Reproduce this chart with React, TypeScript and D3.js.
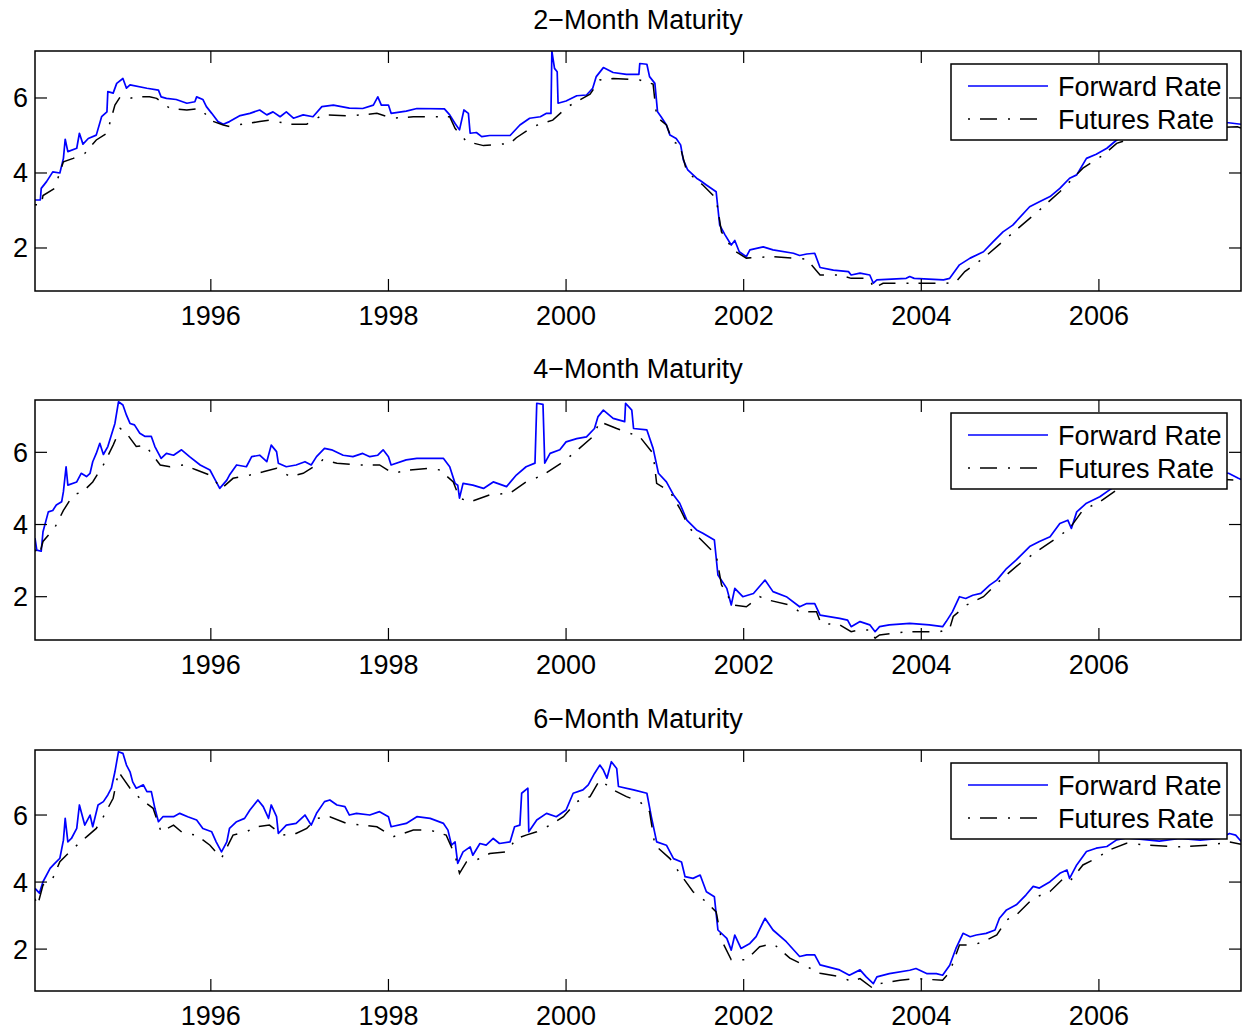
import React from 'react';
import * as d3 from 'd3';

type Pt = [number, number];

// ---- 2-month maturity ----
const forward2m: Pt[] = [
  [1994.02, 3.28], [1994.08, 3.28], [1994.09, 3.59], [1994.15, 3.77], [1994.22, 4.03], [1994.30, 4.0],
  [1994.34, 4.39], [1994.36, 4.9], [1994.39, 4.57], [1994.49, 4.66], [1994.52, 5.06], [1994.56, 4.77],
  [1994.62, 4.92], [1994.71, 5.01], [1994.77, 5.5], [1994.83, 5.63], [1994.84, 6.17], [1994.90, 6.13],
  [1994.94, 6.39], [1995.01, 6.52], [1995.05, 6.26], [1995.09, 6.35], [1995.28, 6.26], [1995.41, 6.21],
  [1995.44, 6.03], [1995.50, 5.99], [1995.61, 5.96], [1995.73, 5.86], [1995.82, 5.9], [1995.84, 6.03],
  [1995.91, 5.96], [1995.95, 5.77], [1996.01, 5.59], [1996.08, 5.37], [1996.14, 5.3], [1996.21, 5.37],
  [1996.33, 5.53], [1996.44, 5.59], [1996.55, 5.68], [1996.63, 5.55], [1996.70, 5.63], [1996.78, 5.5],
  [1996.85, 5.63], [1996.93, 5.46], [1997.04, 5.55], [1997.15, 5.5], [1997.25, 5.77], [1997.38, 5.81],
  [1997.56, 5.73], [1997.71, 5.72], [1997.83, 5.81], [1997.88, 6.03], [1997.92, 5.81], [1998.00, 5.81],
  [1998.03, 5.59], [1998.20, 5.65], [1998.32, 5.72], [1998.63, 5.71], [1998.69, 5.55], [1998.75, 5.32],
  [1998.80, 5.15], [1998.85, 5.68], [1998.90, 5.59], [1998.92, 5.06], [1998.99, 5.08], [1999.05, 4.97],
  [1999.14, 5.0], [1999.37, 5.0], [1999.48, 5.28], [1999.59, 5.46], [1999.71, 5.5], [1999.78, 5.59],
  [1999.83, 5.59], [1999.84, 7.25], [1999.87, 6.79], [1999.90, 6.7], [1999.91, 5.86], [2000.00, 5.92],
  [2000.12, 6.06], [2000.23, 6.08], [2000.30, 6.26], [2000.34, 6.57], [2000.42, 6.81], [2000.53, 6.68],
  [2000.68, 6.63], [2000.82, 6.63], [2000.83, 6.92], [2000.91, 6.9], [2000.94, 6.57], [2001.00, 6.39],
  [2001.03, 5.63], [2001.07, 5.5], [2001.13, 5.28], [2001.17, 5.01], [2001.24, 4.92], [2001.29, 4.75],
  [2001.32, 4.35], [2001.37, 4.08], [2001.47, 3.86], [2001.51, 3.8], [2001.58, 3.68], [2001.69, 3.5],
  [2001.73, 2.61], [2001.79, 2.35], [2001.86, 2.08], [2001.90, 2.2], [2001.95, 1.9], [2002.03, 1.77],
  [2002.07, 1.95], [2002.22, 2.03], [2002.33, 1.95], [2002.56, 1.86], [2002.63, 1.8], [2002.71, 1.84],
  [2002.80, 1.86], [2002.86, 1.48], [2003.01, 1.41], [2003.18, 1.37], [2003.21, 1.28], [2003.31, 1.33],
  [2003.42, 1.28], [2003.46, 1.06], [2003.50, 1.15], [2003.83, 1.19], [2003.87, 1.24], [2003.92, 1.19],
  [2004.25, 1.15], [2004.32, 1.19], [2004.43, 1.55], [2004.55, 1.73], [2004.70, 1.9], [2004.81, 2.17],
  [2004.92, 2.43], [2005.03, 2.61], [2005.22, 3.1], [2005.33, 3.23], [2005.45, 3.37], [2005.56, 3.59],
  [2005.67, 3.86], [2005.75, 3.95], [2005.86, 4.39], [2005.97, 4.5], [2006.09, 4.66], [2006.20, 4.88],
  [2006.46, 5.15], [2006.80, 5.3], [2007.14, 5.34], [2007.46, 5.34], [2007.60, 5.3],
];

const futures2m: Pt[] = [
  [1994.02, 3.15], [1994.09, 3.15], [1994.11, 3.4], [1994.24, 3.59], [1994.34, 4.3], [1994.45, 4.39],
  [1994.58, 4.52], [1994.71, 4.88], [1994.83, 5.06], [1994.92, 5.81], [1994.98, 6.03], [1995.09, 5.99],
  [1995.16, 6.03], [1995.31, 6.03], [1995.39, 5.99], [1995.54, 5.72], [1995.73, 5.68], [1995.88, 5.72],
  [1996.01, 5.39], [1996.14, 5.28], [1996.21, 5.24], [1996.40, 5.32], [1996.55, 5.37], [1996.66, 5.41],
  [1996.89, 5.3], [1997.08, 5.3], [1997.26, 5.55], [1997.56, 5.52], [1997.87, 5.59], [1998.05, 5.46],
  [1998.28, 5.5], [1998.69, 5.5], [1998.75, 5.19], [1998.88, 4.84], [1999.07, 4.73], [1999.37, 4.79],
  [1999.44, 4.94], [1999.63, 5.24], [1999.85, 5.41], [2000.02, 5.77], [2000.27, 6.1], [2000.38, 6.48],
  [2000.53, 6.52], [2000.83, 6.48], [2000.98, 6.37], [2001.02, 5.5], [2001.13, 5.28], [2001.20, 4.84],
  [2001.28, 4.75], [2001.36, 4.03], [2001.54, 3.68], [2001.69, 3.32], [2001.75, 2.43], [2001.88, 1.95],
  [2002.03, 1.73], [2002.33, 1.77], [2002.56, 1.73], [2002.71, 1.7], [2002.86, 1.28], [2003.08, 1.28],
  [2003.21, 1.19], [2003.42, 1.19], [2003.46, 0.93], [2003.57, 1.06], [2003.94, 1.06], [2004.28, 1.06],
  [2004.39, 1.1], [2004.49, 1.37], [2004.70, 1.73], [2004.96, 2.26], [2005.33, 3.01], [2005.56, 3.5],
  [2005.82, 4.13], [2006.05, 4.48], [2006.20, 4.79], [2006.46, 5.0], [2006.80, 5.15], [2007.14, 5.2],
  [2007.56, 5.23], [2007.60, 5.2],
];

// ---- 4-month maturity ----
const forward4m: Pt[] = [
  [1994.02, 3.62], [1994.04, 3.29], [1994.09, 3.26], [1994.11, 3.8], [1994.17, 4.35], [1994.22, 4.39],
  [1994.26, 4.54], [1994.32, 4.63], [1994.34, 4.91], [1994.37, 5.6], [1994.39, 5.09], [1994.49, 5.18],
  [1994.54, 5.42], [1994.60, 5.33], [1994.64, 5.42], [1994.67, 5.74], [1994.71, 5.97], [1994.75, 6.25],
  [1994.79, 5.94], [1994.84, 6.16], [1994.88, 6.48], [1994.92, 6.8], [1994.96, 7.4], [1995.01, 7.31],
  [1995.05, 7.03], [1995.09, 6.8], [1995.14, 6.76], [1995.20, 6.53], [1995.26, 6.44], [1995.33, 6.44],
  [1995.37, 6.16], [1995.44, 5.83], [1995.50, 5.97], [1995.58, 5.92], [1995.67, 6.07], [1995.76, 5.88],
  [1995.88, 5.65], [1995.99, 5.51], [1996.04, 5.28], [1996.10, 5.0], [1996.18, 5.23], [1996.21, 5.37],
  [1996.29, 5.65], [1996.40, 5.6], [1996.46, 5.88], [1996.55, 5.92], [1996.63, 5.74], [1996.68, 6.2],
  [1996.74, 6.02], [1996.76, 5.7], [1996.85, 5.6], [1996.96, 5.65], [1997.06, 5.74], [1997.13, 5.65],
  [1997.19, 5.88], [1997.28, 6.11], [1997.36, 6.07], [1997.49, 5.92], [1997.60, 5.88], [1997.71, 5.97],
  [1997.79, 5.88], [1997.88, 5.92], [1997.94, 6.07], [1998.00, 5.88], [1998.03, 5.65], [1998.20, 5.79],
  [1998.32, 5.83], [1998.62, 5.83], [1998.69, 5.6], [1998.75, 5.14], [1998.78, 5.09], [1998.80, 4.73],
  [1998.84, 5.14], [1998.95, 5.09], [1999.07, 5.0], [1999.18, 5.18], [1999.33, 5.05], [1999.44, 5.37],
  [1999.55, 5.6], [1999.65, 5.7], [1999.67, 7.36], [1999.74, 7.33], [1999.76, 5.7], [1999.82, 5.97],
  [1999.93, 6.07], [2000.00, 6.29], [2000.12, 6.38], [2000.23, 6.43], [2000.32, 6.66], [2000.36, 6.99],
  [2000.42, 7.17], [2000.53, 6.94], [2000.66, 6.85], [2000.67, 7.36], [2000.74, 7.17], [2000.76, 6.66],
  [2000.91, 6.62], [2000.98, 6.11], [2001.04, 5.42], [2001.13, 5.18], [2001.21, 4.82], [2001.28, 4.59],
  [2001.36, 4.12], [2001.47, 3.85], [2001.54, 3.76], [2001.67, 3.57], [2001.71, 2.6], [2001.81, 2.23],
  [2001.86, 1.77], [2001.90, 2.23], [2001.99, 2.0], [2002.11, 2.09], [2002.24, 2.46], [2002.33, 2.14],
  [2002.48, 2.0], [2002.63, 1.72], [2002.71, 1.81], [2002.80, 1.81], [2002.86, 1.49], [2003.08, 1.4],
  [2003.17, 1.35], [2003.21, 1.17], [2003.31, 1.31], [2003.42, 1.22], [2003.48, 1.03], [2003.53, 1.17],
  [2003.64, 1.22], [2003.87, 1.26], [2004.09, 1.22], [2004.24, 1.17], [2004.28, 1.31], [2004.35, 1.58],
  [2004.43, 2.0], [2004.50, 1.95], [2004.58, 2.04], [2004.67, 2.09], [2004.77, 2.32], [2004.85, 2.46],
  [2004.96, 2.78], [2005.07, 3.02], [2005.22, 3.39], [2005.33, 3.53], [2005.45, 3.66], [2005.56, 4.03],
  [2005.65, 4.12], [2005.69, 3.89], [2005.75, 4.35], [2005.86, 4.59], [2006.01, 4.77], [2006.12, 4.96],
  [2006.20, 5.09], [2006.57, 5.35], [2007.02, 5.45], [2007.46, 5.42], [2007.57, 5.28], [2007.60, 5.25],
];

const futures4m: Pt[] = [
  [1994.02, 3.3], [1994.07, 3.16], [1994.11, 3.53], [1994.24, 3.9], [1994.34, 4.39], [1994.45, 4.82],
  [1994.56, 4.91], [1994.67, 5.18], [1994.79, 5.65], [1994.90, 6.2], [1994.98, 6.66], [1995.05, 6.53],
  [1995.16, 6.16], [1995.26, 6.2], [1995.43, 5.65], [1995.54, 5.6], [1995.69, 5.65], [1995.84, 5.51],
  [1995.99, 5.37], [1996.12, 5.0], [1996.25, 5.28], [1996.44, 5.37], [1996.59, 5.46], [1996.74, 5.56],
  [1996.89, 5.33], [1997.04, 5.42], [1997.19, 5.65], [1997.26, 5.79], [1997.42, 5.7], [1997.68, 5.65],
  [1997.90, 5.65], [1998.05, 5.42], [1998.24, 5.51], [1998.47, 5.56], [1998.58, 5.51], [1998.73, 5.18],
  [1998.80, 4.73], [1998.92, 4.63], [1999.14, 4.82], [1999.37, 4.87], [1999.55, 5.18], [1999.74, 5.37],
  [1999.97, 5.74], [2000.15, 6.11], [2000.30, 6.43], [2000.38, 6.85], [2000.57, 6.66], [2000.83, 6.43],
  [2000.98, 5.97], [2001.02, 5.14], [2001.17, 4.91], [2001.28, 4.45], [2001.39, 3.9], [2001.54, 3.53],
  [2001.69, 3.16], [2001.75, 2.33], [2001.88, 1.77], [2002.03, 1.72], [2002.18, 2.0], [2002.29, 1.9],
  [2002.52, 1.77], [2002.63, 1.58], [2002.82, 1.58], [2002.87, 1.26], [2003.08, 1.22], [2003.21, 1.03],
  [2003.31, 1.08], [2003.42, 1.08], [2003.48, 0.85], [2003.53, 0.94], [2003.83, 1.03], [2004.21, 1.03],
  [2004.32, 1.12], [2004.36, 1.45], [2004.51, 1.77], [2004.70, 2.0], [2004.89, 2.46], [2005.11, 2.92],
  [2005.30, 3.25], [2005.52, 3.62], [2005.67, 3.89], [2005.82, 4.4], [2006.01, 4.63], [2006.20, 4.96],
  [2006.57, 5.2], [2007.02, 5.3], [2007.56, 5.23], [2007.60, 5.2],
];

// ---- 6-month maturity ----
const forward6m: Pt[] = [
  [1994.02, 3.81], [1994.07, 3.67], [1994.11, 4.01], [1994.19, 4.41], [1994.24, 4.55], [1994.30, 4.71],
  [1994.34, 5.25], [1994.36, 5.9], [1994.39, 5.2], [1994.43, 5.3], [1994.49, 5.6], [1994.52, 6.3],
  [1994.58, 5.7], [1994.64, 6.0], [1994.67, 5.65], [1994.73, 6.3], [1994.79, 6.4], [1994.84, 6.6],
  [1994.88, 6.8], [1994.92, 7.29], [1994.96, 7.89], [1995.01, 7.84], [1995.05, 7.49], [1995.09, 7.29],
  [1995.12, 6.99], [1995.16, 6.8], [1995.24, 6.9], [1995.28, 6.7], [1995.33, 6.7], [1995.37, 6.2],
  [1995.41, 5.8], [1995.46, 5.95], [1995.58, 5.95], [1995.65, 6.05], [1995.74, 5.95], [1995.84, 5.85],
  [1995.91, 5.6], [1996.01, 5.5], [1996.06, 5.2], [1996.12, 4.9], [1996.18, 5.2], [1996.21, 5.6],
  [1996.29, 5.8], [1996.38, 5.9], [1996.44, 6.15], [1996.53, 6.45], [1996.59, 6.25], [1996.65, 5.9],
  [1996.68, 6.3], [1996.74, 5.95], [1996.76, 5.45], [1996.85, 5.7], [1996.96, 5.75], [1997.06, 6.0],
  [1997.13, 5.7], [1997.19, 6.05], [1997.28, 6.4], [1997.34, 6.45], [1997.42, 6.3], [1997.51, 6.25],
  [1997.56, 6.0], [1997.64, 6.05], [1997.79, 6.0], [1997.90, 6.1], [1998.00, 5.95], [1998.03, 5.65],
  [1998.20, 5.75], [1998.32, 5.95], [1998.47, 5.9], [1998.62, 5.75], [1998.67, 5.55], [1998.71, 5.1],
  [1998.75, 5.2], [1998.78, 4.56], [1998.84, 4.9], [1998.92, 5.05], [1998.95, 4.8], [1999.03, 5.15],
  [1999.10, 5.1], [1999.18, 5.3], [1999.25, 5.15], [1999.37, 5.2], [1999.42, 5.65], [1999.48, 5.7],
  [1999.50, 6.65], [1999.57, 6.8], [1999.58, 5.5], [1999.67, 5.85], [1999.78, 6.05], [1999.89, 5.95],
  [2000.00, 6.15], [2000.08, 6.65], [2000.19, 6.75], [2000.25, 6.9], [2000.32, 7.24], [2000.38, 7.49],
  [2000.42, 7.34], [2000.46, 7.1], [2000.51, 7.59], [2000.57, 7.39], [2000.59, 6.85], [2000.76, 6.75],
  [2000.91, 6.65], [2000.96, 5.95], [2001.02, 5.2], [2001.13, 5.1], [2001.21, 4.7], [2001.30, 4.6],
  [2001.34, 4.16], [2001.43, 4.11], [2001.51, 4.21], [2001.58, 3.71], [2001.67, 3.56], [2001.71, 2.57],
  [2001.81, 2.32], [2001.86, 1.97], [2001.90, 2.42], [2001.97, 2.02], [2002.07, 2.17], [2002.14, 2.37],
  [2002.24, 2.92], [2002.33, 2.57], [2002.48, 2.22], [2002.63, 1.78], [2002.71, 1.83], [2002.80, 1.83],
  [2002.86, 1.53], [2003.08, 1.38], [2003.19, 1.22], [2003.31, 1.38], [2003.38, 1.17], [2003.46, 0.97],
  [2003.50, 1.17], [2003.64, 1.27], [2003.87, 1.37], [2003.94, 1.42], [2004.06, 1.27], [2004.17, 1.27],
  [2004.24, 1.22], [2004.32, 1.52], [2004.39, 2.02], [2004.47, 2.47], [2004.55, 2.37], [2004.62, 2.42],
  [2004.73, 2.47], [2004.83, 2.57], [2004.88, 2.92], [2004.96, 3.17], [2005.07, 3.32], [2005.18, 3.62],
  [2005.26, 3.87], [2005.33, 3.82], [2005.45, 4.01], [2005.56, 4.26], [2005.64, 4.36], [2005.67, 4.11],
  [2005.75, 4.51], [2005.86, 4.91], [2005.97, 5.01], [2006.09, 5.06], [2006.20, 5.26], [2006.31, 5.32],
  [2006.46, 5.28], [2006.68, 5.22], [2006.91, 5.3], [2007.14, 5.25], [2007.36, 5.3], [2007.47, 5.45],
  [2007.54, 5.4], [2007.60, 5.22],
];

const futures6m: Pt[] = [
  [1994.02, 3.5], [1994.05, 3.31], [1994.11, 3.91], [1994.22, 4.11], [1994.30, 4.61], [1994.41, 4.9],
  [1994.45, 5.0], [1994.60, 5.35], [1994.71, 5.6], [1994.79, 5.95], [1994.90, 6.5], [1994.96, 7.29],
  [1995.01, 7.1], [1995.09, 6.8], [1995.20, 6.5], [1995.35, 6.2], [1995.44, 5.5], [1995.58, 5.7],
  [1995.69, 5.45], [1995.84, 5.4], [1995.99, 5.1], [1996.12, 4.71], [1996.25, 5.4], [1996.40, 5.5],
  [1996.51, 5.65], [1996.66, 5.7], [1996.81, 5.4], [1996.96, 5.45], [1997.08, 5.6], [1997.19, 5.9],
  [1997.34, 5.95], [1997.53, 5.75], [1997.71, 5.7], [1997.87, 5.65], [1998.05, 5.35], [1998.28, 5.55],
  [1998.47, 5.55], [1998.65, 5.4], [1998.75, 4.8], [1998.80, 4.26], [1998.88, 4.61], [1998.99, 4.66],
  [1999.14, 4.85], [1999.33, 4.9], [1999.44, 5.3], [1999.55, 5.4], [1999.67, 5.5], [1999.82, 5.7],
  [1999.97, 5.95], [2000.12, 6.4], [2000.27, 6.55], [2000.38, 7.05], [2000.53, 6.75], [2000.68, 6.55],
  [2000.83, 6.4], [2000.94, 6.1], [2001.00, 5.1], [2001.17, 4.7], [2001.28, 4.26], [2001.43, 3.71],
  [2001.58, 3.41], [2001.69, 3.11], [2001.75, 2.27], [2001.86, 1.68], [2002.03, 1.68], [2002.18, 2.07],
  [2002.33, 2.17], [2002.52, 1.73], [2002.71, 1.48], [2002.86, 1.28], [2003.08, 1.18], [2003.21, 1.04],
  [2003.31, 1.12], [2003.46, 0.82], [2003.53, 0.97], [2003.76, 1.07], [2003.94, 1.12], [2004.24, 1.07],
  [2004.32, 1.32], [2004.43, 2.12], [2004.58, 2.12], [2004.70, 2.22], [2004.85, 2.42], [2004.96, 2.87],
  [2005.07, 3.02], [2005.26, 3.52], [2005.45, 3.72], [2005.60, 4.11], [2005.67, 4.01], [2005.82, 4.51],
  [2005.97, 4.71], [2006.12, 4.96], [2006.31, 5.16], [2006.57, 5.1], [2006.91, 5.05], [2007.25, 5.1],
  [2007.47, 5.2], [2007.60, 5.13],
];

const yearTicks = [1996, 1998, 2000, 2002, 2004, 2006];
const rateTicks = [2, 4, 6];
const panelTitles = ['2−Month Maturity', '4−Month Maturity', '6−Month Maturity'];
const seriesNames = ['Forward Rate', 'Futures Rate'];
const yearRange: [number, number] = [1994.02, 2007.6];
const rateRanges: [number, number][] = [[0.853, 7.253], [0.8, 7.45], [0.75, 7.94]];

const W = 1248;
const H = 1031;
const LEFT = 35;
const RIGHT = 1241;
const PANEL_TOPS = [51, 400, 750];
const PANEL_HEIGHTS = [240, 240, 241];
const FONT = '"Liberation Sans", Arial, Helvetica, sans-serif';
const FS = 27;
const TICK = 12;
const DASH_DOT = '2 10 17 11';

interface PanelProps {
  idx: number;
  fwd: Pt[];
  fut: Pt[];
}

function Panel({ idx, fwd, fut }: PanelProps) {
  const top = PANEL_TOPS[idx];
  const h = PANEL_HEIGHTS[idx];
  const bottom = top + h;
  const x = d3.scaleLinear().domain(yearRange).range([LEFT, RIGHT]);
  const y = d3.scaleLinear().domain(rateRanges[idx]).range([bottom, top]);
  const line = d3.line<Pt>().x(d => x(d[0])).y(d => y(d[1]));
  const clipId = `clip-${idx}`;

  const lgX = 951;
  const lgW = 276;
  const lgY = top + 13;
  const lgH = 76;
  const row1 = top + 35;
  const row2 = top + 68;

  return (
    <g>
      <defs>
        <clipPath id={clipId}>
          <rect x={LEFT} y={top} width={RIGHT - LEFT} height={h} />
        </clipPath>
      </defs>
      <text x={(LEFT + RIGHT) / 2} y={top - 22} textAnchor="middle" fontSize={FS} fontFamily={FONT}>
        {panelTitles[idx]}
      </text>
      <g clipPath={`url(#${clipId})`}>
        <path d={line(fwd) ?? ''} fill="none" stroke="#0000ff" strokeWidth={1.7} strokeLinejoin="round" />
        <path d={line(fut) ?? ''} fill="none" stroke="#000" strokeWidth={1.5} strokeDasharray={DASH_DOT} />
      </g>
      {/* axes box */}
      <rect x={LEFT} y={top} width={RIGHT - LEFT} height={h} fill="none" stroke="#000" strokeWidth={1.5} />
      {yearTicks.map(t => (
        <g key={`x${t}`}>
          <line x1={x(t)} x2={x(t)} y1={bottom} y2={bottom - TICK} stroke="#000" strokeWidth={1.2} />
          <line x1={x(t)} x2={x(t)} y1={top} y2={top + TICK} stroke="#000" strokeWidth={1.2} />
          <text x={x(t)} y={bottom + 34} textAnchor="middle" fontSize={FS} fontFamily={FONT}>{t}</text>
        </g>
      ))}
      {rateTicks.map(t => (
        <g key={`y${t}`}>
          <line x1={LEFT} x2={LEFT + TICK} y1={y(t)} y2={y(t)} stroke="#000" strokeWidth={1.2} />
          <line x1={RIGHT} x2={RIGHT - TICK} y1={y(t)} y2={y(t)} stroke="#000" strokeWidth={1.2} />
          <text x={28} y={y(t) + 9.5} textAnchor="end" fontSize={FS} fontFamily={FONT}>{t}</text>
        </g>
      ))}
      {/* legend */}
      <rect x={lgX} y={lgY} width={lgW} height={lgH} fill="#fff" stroke="#000" strokeWidth={1.5} />
      <line x1={968} x2={1048} y1={row1} y2={row1} stroke="#0000ff" strokeWidth={1.5} />
      <line x1={968} x2={1048} y1={row2} y2={row2} stroke="#000" strokeWidth={1.5} strokeDasharray={DASH_DOT} />
      <text x={1058} y={row1 + 9.5} fontSize={FS} fontFamily={FONT}>{seriesNames[0]}</text>
      <text x={1058} y={row2 + 9.5} fontSize={FS} fontFamily={FONT}>{seriesNames[1]}</text>
    </g>
  );
}

export default function App() {
  return (
    <svg
      width={W}
      height={H}
      viewBox={`0 0 ${W} ${H}`}
      style={{ position: 'absolute', left: 0, top: 0, display: 'block', background: '#fff' }}
    >
      <rect x={0} y={0} width={W} height={H} fill="#fff" />
      <Panel idx={0} fwd={forward2m} fut={futures2m} />
      <Panel idx={1} fwd={forward4m} fut={futures4m} />
      <Panel idx={2} fwd={forward6m} fut={futures6m} />
    </svg>
  );
}
